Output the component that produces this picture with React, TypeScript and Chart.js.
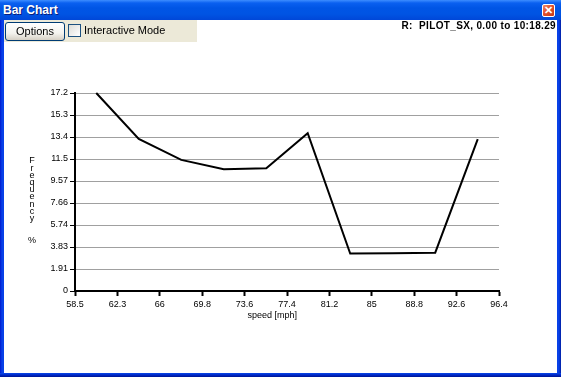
import React, { useEffect, useRef } from "react";
import { Chart, registerables } from "chart.js";

Chart.register(...registerables);

const xTickLabels = ["58.5", "62.3", "66", "69.8", "73.6", "77.4", "81.2", "85", "88.8", "92.6", "96.4"];
const yTickLabels = ["0", "1.91", "3.83", "5.74", "7.66", "9.57", "11.5", "13.4", "15.3", "17.2"];
const xMin = 58.5;
const xMax = 96.4;
const yMin = 0;
const yMax = 17.2;
const speedBins = [60.4, 64.2, 68.0, 71.8, 75.6, 79.3, 83.1, 86.9, 90.7, 94.5];
const frequency = [17.2, 13.22, 11.39, 10.58, 10.66, 13.71, 3.25, 3.28, 3.33, 13.19];
const xTitle = "speed [mph]";
const yTitleLines = ["F", "r", "e", "q", "u", "e", "n", "c", "y", "", "", "%"];

const W = 561;
const H = 377;
const FONT = '"Liberation Sans", Arial, sans-serif';

const titlePlugin = {
  id: "customTitles",
  afterDraw(chart: any) {
    const ctx = chart.ctx;
    const area = chart.chartArea;
    ctx.save();
    ctx.fillStyle = "#000";
    ctx.font = `9px ${FONT}`;
    ctx.textAlign = "center";
    ctx.textBaseline = "middle";
    // x title
    ctx.fillText(xTitle, area.left + (area.right - area.left) * 0.465, area.bottom + 25);
    // y title stacked letters
    const startY = area.top + 68;
    yTitleLines.forEach((ch, i) => {
      if (ch) ctx.fillText(ch, 32, startY + i * 7.2);
    });
    ctx.restore();
  },
};

export default function App() {
  const ref = useRef<HTMLCanvasElement | null>(null);

  useEffect(() => {
    if (!ref.current) return;
    const chart = new Chart(ref.current, {
      type: "line",
      data: {
        datasets: [
          {
            data: speedBins.map((x, i) => ({ x, y: frequency[i] })),
            borderColor: "#000",
            borderWidth: 2,
            pointRadius: 0,
            tension: 0,
            fill: false,
            clip: false as any,
          },
        ],
      },
      options: {
        animation: false,
        responsive: false,
        maintainAspectRatio: false,
        layout: { padding: { left: 0, top: 93, right: 62, bottom: 0 } },
        plugins: {
          legend: { display: false },
          tooltip: { enabled: false },
          title: { display: false },
        },
        scales: {
          x: {
            type: "linear",
            min: xMin,
            max: xMax,
            afterBuildTicks: (scale: any) => {
              const n = xTickLabels.length - 1;
              scale.ticks = xTickLabels.map((_, i) => ({ value: xMin + (i * (xMax - xMin)) / n }));
            },
            afterFit: (scale: any) => {
              scale.height = H - 291;
            },
            ticks: {
              autoSkip: false,
              maxRotation: 0,
              padding: 3,
              color: "#000",
              font: { family: FONT, size: 9 },
              callback: (_v: any, i: number) => xTickLabels[i],
            },
            grid: {
              display: true,
              drawOnChartArea: false,
              drawTicks: true,
              tickLength: 5,
              tickColor: "#000",
              tickWidth: 2,
            },
            border: { display: true, color: "#000", width: 2 },
          },
          y: {
            type: "linear",
            min: yMin,
            max: yMax,
            afterBuildTicks: (scale: any) => {
              const n = yTickLabels.length - 1;
              scale.ticks = yTickLabels.map((_, i) => ({ value: yMin + (i * (yMax - yMin)) / n }));
            },
            afterFit: (scale: any) => {
              scale.width = 75;
            },
            ticks: {
              autoSkip: false,
              padding: 2,
              color: "#000",
              font: { family: FONT, size: 9 },
              callback: (_v: any, i: number) => yTickLabels[i],
            },
            grid: {
              display: true,
              color: "#a0a0a0",
              lineWidth: 1,
              drawTicks: true,
              tickLength: 5,
              tickColor: "#000",
              tickWidth: 1,
            },
            border: { display: true, color: "#000", width: 2 },
          },
        },
      },
      plugins: [titlePlugin],
    });
    return () => chart.destroy();
  }, []);

  return (
    <div
      style={{
        position: "fixed",
        left: 0,
        top: 0,
        width: W,
        height: H,
        overflow: "hidden",
        fontFamily: FONT,
        background: "#0831D9",
      }}
    >
      {/* outer border */}
      <div style={{ position: "absolute", left: 0, top: 0, width: W, height: H, background: "linear-gradient(to right, #0019CF 0px, #0840E8 2px, #0840E8 559px, #001EA0 561px)" }} />
      <div style={{ position: "absolute", left: 0, top: H - 4, width: W, height: 4, background: "linear-gradient(to bottom, #0A48E8 0px, #0028C8 2px, #001590 4px)" }} />
      {/* title bar */}
      <div
        style={{
          position: "absolute",
          left: 0,
          top: 0,
          width: W,
          height: 20,
          background: "linear-gradient(to bottom, #3D8DFF 0px, #0A60F0 3px, #0055E5 8px, #0054E3 14px, #0047D8 20px)",
        }}
      />
      <div style={{ position: "absolute", left: 3, top: 2, height: 17, lineHeight: "17px", color: "#fff", fontWeight: "bold", fontSize: 12, fontFamily: FONT, textShadow: "1px 1px 0 #0A1E7A" }}>
        Bar Chart
      </div>
      {/* close button */}
      <div
        style={{
          position: "absolute",
          left: 542,
          top: 4,
          width: 11,
          height: 11,
          borderRadius: 2,
          border: "1px solid #fff",
          background: "linear-gradient(135deg, #F08A6A 0%, #E0502B 45%, #C43A18 100%)",
          color: "#fff",
          fontWeight: "bold",
          fontSize: 11,
          lineHeight: "11px",
          textAlign: "center",
          fontFamily: FONT,
        }}
      >
        ✕
      </div>
      {/* client area */}
      <div style={{ position: "absolute", left: 4, top: 20, width: W - 8, height: H - 24, background: "#fff" }} />
      <canvas ref={ref} width={W} height={H} style={{ position: "absolute", left: 0, top: 0, width: W, height: H }} />
      {/* toolbar */}
      <div style={{ position: "absolute", left: 4, top: 20, width: 193, height: 22, background: "#ECE9D8" }} />
      <div
        style={{
          position: "absolute",
          left: 5,
          top: 22,
          width: 58,
          height: 17,
          border: "1px solid #003C74",
          borderRadius: 3,
          background: "linear-gradient(to bottom, #FFFFFF 0%, #F4F3EE 60%, #D6D0C5 100%)",
          fontSize: 11,
          lineHeight: "17px",
          textAlign: "center",
          color: "#000",
          fontFamily: FONT,
        }}
      >
        Options
      </div>
      <div
        style={{
          position: "absolute",
          left: 68,
          top: 24,
          width: 11,
          height: 11,
          border: "1px solid #1C5180",
          background: "linear-gradient(135deg, #DCDCD7 0%, #FFFFFF 100%)",
        }}
      />
      <div style={{ position: "absolute", left: 84, top: 23, fontSize: 11, lineHeight: "14px", color: "#000", fontFamily: FONT }}>
        Interactive Mode
      </div>
      <div
        style={{
          position: "absolute",
          right: 5,
          top: 20,
          fontSize: 10,
          lineHeight: "12px",
          fontWeight: "bold",
          color: "#000",
          letterSpacing: "0.35px",
          whiteSpace: "pre",
          fontFamily: FONT,
        }}
      >
        {"R:  PILOT_SX, 0.00 to 10:18.29"}
      </div>
    </div>
  );
}
